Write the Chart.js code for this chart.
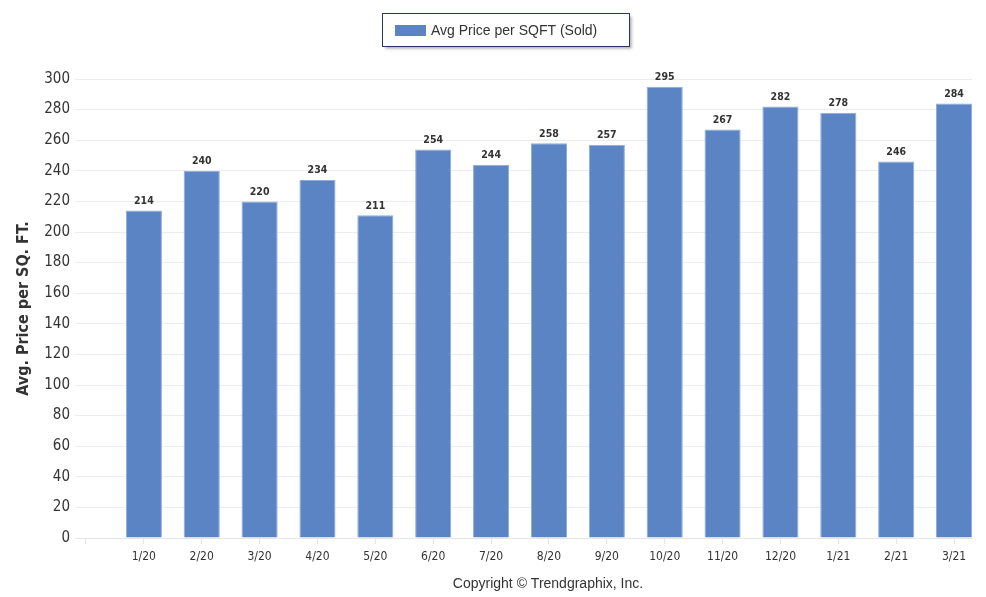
<!DOCTYPE html>
<html>
<head>
<meta charset="utf-8">
<script src="https://cdn.jsdelivr.net/npm/chart.js@4"></script>
<style>
  html, body { margin: 0; padding: 0; background: #fff; }
  #wrap { width: 986px; height: 597px; }
</style>
</head>
<body>
<div id="wrap"><canvas id="priceChart" width="986" height="597"></canvas></div>
<script>
// Months shown on the x axis
const months = ["1/20", "2/20", "3/20", "4/20", "5/20", "6/20", "7/20", "8/20",
  "9/20", "10/20", "11/20", "12/20", "1/21", "2/21", "3/21"];

// Avg price per sqft (sold)
const avgPrice = [214, 240, 220, 234, 211, 254, 244, 258, 257, 295, 267, 282, 278, 246, 284];

// Y axis ticks
const yTicks = [0, 20, 40, 60, 80, 100, 120, 140, 160, 180, 200, 220, 240, 260, 280, 300];

const legendText = "Avg Price per SQFT (Sold)";
const footerText = "Copyright \u00A9 Trendgraphix, Inc.";
const barColor = "#5b84c4";
const narrow = "'DejaVu Sans Condensed', 'Liberation Sans Narrow', Arial, sans-serif";

// points on a linear x axis so the empty slot on the left can be kept
const points = avgPrice.map((v, i) => ({ x: i, y: v }));

// labels above bars, legend box and footer
const extras = {
  id: "extras",
  afterDatasetsDraw(chart) {
    const ctx = chart.ctx;
    const meta = chart.getDatasetMeta(0);
    ctx.save();
    ctx.font = "bold 10.5px " + narrow;
    ctx.fillStyle = "#333";
    ctx.textAlign = "center";
    ctx.textBaseline = "bottom";
    meta.data.forEach((bar, i) => {
      ctx.fillText(avgPrice[i], bar.x, bar.y - 4);
    });
    ctx.restore();
  },
  afterDraw(chart) {
    const ctx = chart.ctx;
    ctx.save();
    // legend
    ctx.shadowColor = "rgba(0,0,0,0.35)";
    ctx.shadowOffsetX = 2;
    ctx.shadowOffsetY = 2;
    ctx.shadowBlur = 3;
    ctx.fillStyle = "#fff";
    ctx.fillRect(382.5, 13.5, 247, 33);
    ctx.shadowColor = "transparent";
    ctx.strokeStyle = "#2b3566";
    ctx.lineWidth = 1;
    ctx.strokeRect(382.5, 13.5, 247, 33);
    ctx.fillStyle = barColor;
    ctx.fillRect(395, 25, 31, 11);
    ctx.fillStyle = "#333";
    ctx.font = "14px Arial, 'Liberation Sans', sans-serif";
    ctx.textBaseline = "middle";
    ctx.textAlign = "left";
    ctx.fillText(legendText, 431, 31);
    // footer
    ctx.textAlign = "center";
    ctx.fillText(footerText, 548, 584);
    ctx.restore();
  }
};

const config = {
  type: "bar",
  data: {
    datasets: [{
      label: legendText,
      data: points,
      backgroundColor: barColor,
      borderColor: "#8eabd9",
      borderWidth: 1,
      barPercentage: 0.8,
      categoryPercentage: 0.78,
    }]
  },
  options: {
    responsive: false,
    animation: false,
    layout: { padding: { top: 79, right: 14, bottom: 19, left: 0 } },
    plugins: {
      legend: { display: false },
      tooltip: { enabled: false },
    },
    scales: {
      x: {
        type: "linear",
        min: -1.19,
        max: 14.31,
        offset: false,
        afterBuildTicks(scale) {
          scale.ticks = [-1].concat(months.map((m, i) => i)).map(v => ({ value: v }));
        },
        afterFit(scale) { scale.height = 40; },
        ticks: {
          autoSkip: false,
          maxRotation: 0,
          padding: 6,
          color: "#333",
          font: { family: narrow, size: 12 },
          callback: (v) => months[v] || "",
        },
        grid: {
          offset: false,
          drawOnChartArea: false,
          drawTicks: true,
          tickLength: 6,
          color: "#e6e6e6",
        },
        border: { display: true, color: "#e6e6e6" },
      },
      y: {
        min: 0,
        max: 300,
        afterBuildTicks(scale) {
          scale.ticks = yTicks.map(v => ({ value: v }));
        },
        afterFit(scale) { scale.width = 75; },
        ticks: {
          padding: 5,
          color: "#333",
          font: { family: narrow, size: 15 },
        },
        grid: {
          color: "#ececec",
          drawTicks: false,
        },
        border: { display: false },
        title: {
          display: true,
          text: "Avg. Price per SQ. FT.",
          color: "#333",
          font: { family: "'DejaVu Sans Condensed', Arial, sans-serif", size: 16, weight: "bold" },
          padding: { top: 14, bottom: 0 },
        },
      },
    },
  },
  plugins: [extras],
};

const priceChart = new Chart(document.getElementById("priceChart"), config);
</script>
</body>
</html>
